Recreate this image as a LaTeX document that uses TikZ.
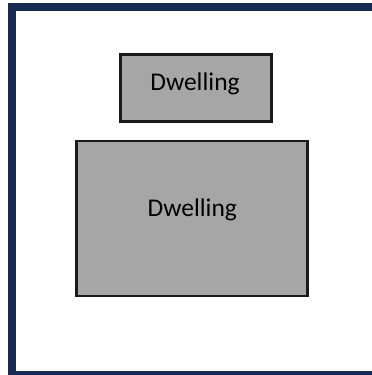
\documentclass[tikz,border=0pt]{standalone}
\usepackage{fontspec}
\setmainfont{Carlito}
\definecolor{navy}{RGB}{22,42,82}
\definecolor{boxgray}{RGB}{166,166,166}
\definecolor{boxline}{RGB}{26,26,26}
\begin{document}
\begin{tikzpicture}[x=1pt,y=-1pt,
  dwell/.style={draw=boxline,fill=boxgray,line width=2.6pt,inner sep=0pt,outer sep=0pt},
  lbl/.style={anchor=base,inner sep=0pt,font=\fontsize{25.5pt}{30pt}\selectfont}]
\useasboundingbox (0,0) rectangle (372,375);
\clip (0,0) rectangle (372,375);
\fill[white] (0,0) rectangle (372,375);
\draw[navy,line width=8pt] (12.3,7.3) rectangle (380,374.7);
\node[dwell,minimum width=151pt,minimum height=67pt] (small) at (195.8,88.2) {};
\node[dwell,minimum width=231pt,minimum height=155pt] (large) at (192,218.5) {};
\node[lbl] (smalltxt) at (195,90) {Dwelling};
\node[lbl] (largetxt) at (192.3,216) {Dwelling};
\end{tikzpicture}
\end{document}
